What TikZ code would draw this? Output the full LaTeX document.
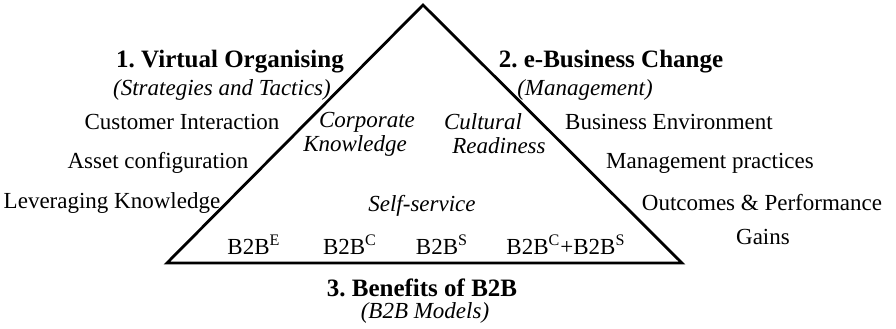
\documentclass[tikz,border=0pt]{standalone}
\usepackage{fontspec}
\setmainfont{Liberation Serif}

\begin{document}
\frenchspacing
\begin{tikzpicture}[x=0.5pt,y=-0.5pt,font=\fontsize{11.5}{14}\selectfont,
	title/.style={font=\fontsize{12.5}{15}\selectfont\bfseries},
	sub/.style={font=\fontsize{11.5}{14}\selectfont\itshape},
	inner sep=1pt]
\useasboundingbox (0,0) rectangle (896,328);
%========================================
% Triangle
%========================================
\coordinate (apex) at (423,5);
\coordinate (bl) at (167,263);
\coordinate (br) at (682,263);
\draw[line width=1.4pt,line join=miter] (apex) -- (br) -- (bl) -- cycle;
%========================================
% LEFT: Virtual Organising
%========================================
\node[title] (vo) at (230,62) {1. Virtual Organising};
\node[sub] (vosub) at (222,90) {(Strategies and Tactics)};
\node (ci) at (182,122) {Customer Interaction};
\node (ac) at (158,163) {Asset configuration};
\node (lk) at (112,203) {Leveraging Knowledge};
%========================================
% RIGHT: e-Business Change
%========================================
\node[title] (ebc) at (611,62) {2. e-Business Change};
\node[sub] (ebcsub) at (585,90) {(Management)};
\node (be) at (669,122) {Business Environment};
\node (mp) at (710,163) {Management practices};
\node (op) at (762,203) {Outcomes \& Performance};
\node (ga) at (763,237) {Gains};
%========================================
% INSIDE the triangle
%========================================
\node[sub] (ck1) at (367,122) {Corporate};
\node[sub] (ck2) at (355,146) {Knowledge};
\node[sub] (cr1) at (483,122) {Cultural};
\node[sub] (cr2) at (499,146) {Readiness};
\node[sub] (ss) at (422,206) {Self-service};
\node (b2be) at (254,245) {B2B\textsuperscript{E}};
\node (b2bc) at (350,245) {B2B\textsuperscript{C}};
\node (b2bs) at (442,245) {B2B\textsuperscript{S}};
\node (b2bcs) at (566,245) {B2B\textsuperscript{C}+B2B\textsuperscript{S}};
%========================================
% BOTTOM: Benefits of B2B
%========================================
\node[title] (bb) at (422,288) {3. Benefits of B2B};
\node[sub] (bbsub) at (425,313) {(B2B Models)};
\end{tikzpicture}
\end{document}
